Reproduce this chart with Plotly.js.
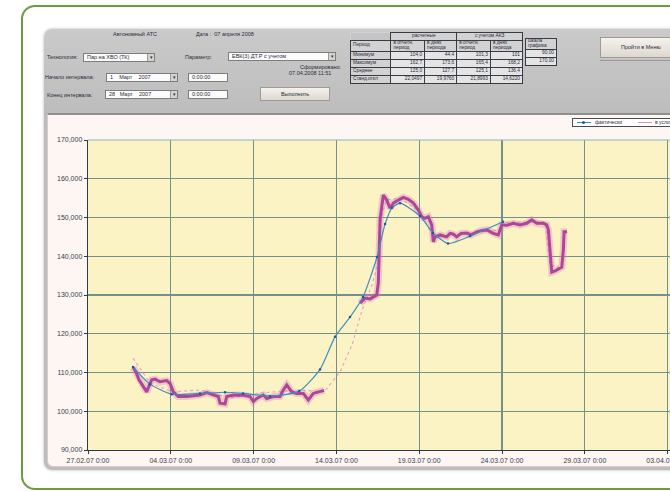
<!DOCTYPE html>
<html><head><meta charset="utf-8">
<script src="https://cdn.plot.ly/plotly-3.0.1.min.js"></script>
<style>
html,body{margin:0;padding:0;width:670px;height:491px;overflow:hidden;background:#fff;font-family:"Liberation Sans",Arial,sans-serif;}
#frame{position:absolute;left:21px;top:5px;width:720px;height:481px;border:2.5px solid #6f9b3d;border-radius:14px;}
#win{position:absolute;left:44px;top:29px;width:700px;height:441px;background:linear-gradient(#cacaca,#bcbcbc 20%,#bdbdbd);border-radius:8px;box-shadow:0 0 3px rgba(0,0,0,0.3);}
.t{position:absolute;font-size:5.5px;color:#2a2a38;white-space:nowrap;line-height:1;}
.box{position:absolute;background:#fbfbfb;border:1px solid #7c7c7c;box-sizing:border-box;font-size:5.5px;color:#2a2a38;line-height:7px;padding-left:3px;white-space:nowrap;overflow:hidden;}
.arr{position:absolute;right:0;top:0;width:6px;height:100%;background:#d8d4cc;border-left:1px solid #999;font-size:5px;text-align:center;line-height:7px;}
.btn{position:absolute;background:linear-gradient(#f6f2ec,#ddd8cf);border:1px solid #a09a92;box-sizing:border-box;font-size:5.5px;color:#2a2a38;text-align:center;}
table.tb{position:absolute;border-collapse:collapse;font-size:4.8px;color:#2a2a38;background:#d2d2d2;}
table.tb td{border:1px solid #3a3a44;padding:0 2px;height:7px;line-height:1;white-space:nowrap;}
table.tb td.n{text-align:right;background:#e4e4e4;}
#panel{position:absolute;left:47px;top:113px;width:700px;height:354px;background:#fdf6f3;border-top:2px solid #8f8f8f;border-left:1px solid #d9cbc8;border-bottom:1px solid #d9cbc8;border-radius:0 0 0 6px;box-sizing:border-box;}
#chart{position:absolute;left:47px;top:113px;width:700px;height:354px;}
#leg{position:absolute;left:572px;top:118px;width:120px;height:9px;background:#fff;border:1px solid #4a4a52;box-sizing:border-box;}
</style></head>
<body>
<div id="frame"></div>
<div id="win"></div>

<div class="t" style="left:113px;top:32px;">Автономный АТС</div>
<div class="t" style="left:196px;top:32px;">Дата :&nbsp;&nbsp;07 апреля 2008</div>
<div class="t" style="left:47px;top:55px;">Технология:</div>
<div class="box" style="left:83px;top:53px;width:72px;height:9px;">Пар на ХВО (ТК)<div class="arr">▾</div></div>
<div class="t" style="left:185px;top:55px;">Параметр:</div>
<div class="box" style="left:228px;top:52px;width:108px;height:9px;">ЕВК(3) ДТ.Р с учетом<div class="arr">▾</div></div>
<div class="t" style="left:300px;top:65px;">Сформировано:</div>
<div class="t" style="left:289px;top:71px;">07.04.2008 11:51</div>
<div class="t" style="left:45px;top:75px;">Начало интервала:</div>
<div class="box" style="left:106px;top:73px;width:72px;height:9px;">1&nbsp;&nbsp;&nbsp;&nbsp;Март&nbsp;&nbsp;&nbsp;&nbsp;2007<div class="arr">▾</div></div>
<div class="box" style="left:188px;top:73px;width:40px;height:9px;">0:00:00</div>
<div class="t" style="left:47px;top:93px;">Конец интервала:</div>
<div class="box" style="left:105px;top:90px;width:73px;height:9px;">28&nbsp;&nbsp;&nbsp;Март&nbsp;&nbsp;&nbsp;&nbsp;2007<div class="arr">▾</div></div>
<div class="box" style="left:188px;top:90px;width:40px;height:9px;">0:00:00</div>
<div class="btn" style="left:260px;top:87px;width:70px;height:14px;line-height:12px;">Выполнить</div>

<table class="tb" style="left:350px;top:32px;width:173px;">
<tr><td style="border-top:none;border-left:none;background:#c4c4c4"></td><td colspan="2" style="text-align:center">расчетные</td><td colspan="2" style="text-align:center">с учетом АКЗ</td></tr>
<tr><td>Период</td><td>в отчетн.<br>период</td><td>в днях<br>периода</td><td>в отчетн.<br>период</td><td>в днях<br>периода</td></tr>
<tr><td>Минимум</td><td class="n">104,0</td><td class="n">44,4</td><td class="n">101,3</td><td class="n">101</td></tr>
<tr><td>Максимум</td><td class="n">162,7</td><td class="n">173,6</td><td class="n">165,4</td><td class="n">168,2</td></tr>
<tr><td>Среднее</td><td class="n">125,0</td><td class="n">127,7</td><td class="n">125,1</td><td class="n">136,4</td></tr>
<tr><td>Станд.откл</td><td class="n">22,0497</td><td class="n">19,9760</td><td class="n">21,8993</td><td class="n">14,6220</td></tr>
</table>
<table class="tb" style="left:525px;top:38px;width:32px;">
<tr><td>шкала<br>графика</td></tr>
<tr><td class="n">90,00</td></tr>
<tr><td class="n">170,00</td></tr>
</table>
<div class="btn" style="left:600px;top:37px;width:80px;height:21px;line-height:19px;text-align:left;padding-left:20px;">Пройти в Меню</div>
<div style="position:absolute;left:600px;top:60px;width:80px;height:1px;background:#9a9a9a;"></div>

<div id="panel"></div>
<div id="chart"></div>
<div id="leg">
  <div style="position:absolute;left:4px;top:3px;width:14px;height:1px;background:#3b8fc0;"></div>
  <div style="position:absolute;left:9px;top:2px;width:3px;height:3px;border-radius:2px;background:#1e5a96;"></div>
  <div class="t" style="left:22px;top:1px;font-size:5px;">фактически</div>
  <div style="position:absolute;left:65px;top:3px;width:14px;height:1px;background:#e08fc4;"></div>
  <div class="t" style="left:82px;top:1px;font-size:5px;">в условиях АКЗ</div>
</div>

<script>
// time axis: days since 27.02.07 0:00
const tickDays = [0, 5, 10, 15, 20, 25, 30, 35];
const tickLabels = ['27.02.07 0:00', '04.03.07 0:00', '09.03.07 0:00', '14.03.07 0:00',
                    '19.03.07 0:00', '24.03.07 0:00', '29.03.07 0:00', '03.04.07 0:00'];

// hourly measured values (thick magenta)
const hourlyDays = [2.735, 2.899, 3.080, 3.261, 3.545, 3.684, 3.847, 4.046, 4.348, 4.752,
  4.952, 5.151, 5.453, 5.960, 6.341, 6.763, 7.168, 7.566, 7.868, 7.971,
  8.273, 8.376, 8.774, 9.378, 9.783, 9.982, 10.187, 10.586, 10.791, 11.190,
  11.594, 11.793, 11.999, 12.301, 12.603, 13.001, 13.303, 13.605, 14.010, 14.251, null,
  16.425, 16.727, 17.029, 17.434, 17.530, 17.572, 17.633, 17.832, 18.037, 18.237,
  18.436, 18.738, 19.040, 19.342, 19.644, 19.946, 20.151, 20.350, 20.549, 20.755,
  20.851, 20.954, 21.256, 21.661, 21.860, 22.059, 22.264, 22.524, 22.868, 23.128,
  23.472, 23.732, 24.076, 24.475, 24.777, 24.982, 25.284, 25.682, 26.087, 26.492,
  26.793, 27.095, 27.494, 27.699, 27.796, 28.001, 28.200, 28.605, 28.702, 28.744, 28.925];
const hourlyValues = [111300, 110100, 108100, 106800, 105000, 106500, 108100, 108300, 107600, 107900,
  107200, 105000, 103800, 103800, 103900, 104200, 104800, 104200, 103800, 102100,
  101900, 103800, 104200, 104100, 103800, 102500, 103300, 104200, 103300, 103800,
  103800, 105500, 106800, 105000, 104600, 104600, 102900, 104600, 105000, 105400, null,
  127900, 129200, 129000, 130000, 133100, 139000, 149400, 155800, 154500, 152400,
  153700, 154500, 155200, 154700, 153700, 151900, 150200, 149800, 150200, 148100,
  143700, 145000, 145500, 145000, 145900, 145700, 145000, 145900, 146000, 145500,
  146300, 146600, 146800, 145900, 145500, 148100, 148000, 148500, 148100, 148500,
  149400, 148500, 148500, 148100, 146800, 135900, 136200, 137200, 141600, 146300, 146300];

// "фактически" (blue)
const factDays = [2.717, 3.744, 5.054, 6.763, 8.273, 9.360, 10.990, 12.760, 14.010, 14.915,
  15.821, 16.606, 17.452, 17.935, 18.357, 18.841, 20.048, 20.833, 21.739, 23.068, 25.060];
const factValues = [111400, 107000, 104400, 104600, 104900, 104600, 103900, 105200, 110800, 119200,
  124300, 129500, 139800, 148300, 152500, 153700, 150400, 146000, 143300, 145200, 148900];

// "в условиях АКЗ" (light pink dotted)
const condDays = [2.717, 3.744, 5.072, 6.763, 8.575, 10.386, 12.802, 14.251, 15.217, 15.942,
  16.546, 17.150, 17.512, 17.754, 17.995, 18.841, 20.048, 20.894, 22.464, 24.879,
  25.060, 27.597, 27.899, 28.502];
const condValues = [113700, 107300, 105000, 105500, 103400, 104700, 105500, 105000, 110100, 117100,
  126100, 132600, 138500, 150600, 154500, 155000, 151400, 144700, 145700, 146800,
  148800, 148800, 137700, 137000];

const traces = [
  {x: condDays, y: condValues, mode: 'lines', name: 'в условиях АКЗ',
   line: {color: '#e79bcb', width: 1.1, dash: 'dot'}, hoverinfo: 'skip'},
  {x: hourlyDays, y: hourlyValues, mode: 'lines', showlegend: false,
   line: {color: 'rgba(214,120,196,0.35)', width: 7}, connectgaps: false, hoverinfo: 'skip'},
  {x: hourlyDays, y: hourlyValues, mode: 'lines', showlegend: false,
   line: {color: '#ad4699', width: 3}, connectgaps: false},
  {x: factDays, y: factValues, mode: 'lines+markers', name: 'фактически',
   line: {color: '#3b8fc0', width: 1.2, shape: 'spline', smoothing: 0.6},
   marker: {color: '#1e5a96', size: 2.5}}
];

const axisFont = {family: 'Liberation Sans, Arial, sans-serif', size: 7, color: '#3a3a48'};
const layout = {
  width: 700, height: 354,
  margin: {l: 41, r: 27, t: 27, b: 17, pad: 0},
  paper_bgcolor: 'rgba(0,0,0,0)',
  plot_bgcolor: '#fcf3c4',
  showlegend: false,
  xaxis: {
    range: [0, 38.16], tickvals: tickDays, ticktext: tickLabels,
    showgrid: true, gridcolor: '#74908a', gridwidth: 1.2, zeroline: false,
    showline: true, linecolor: '#2c3c44', linewidth: 1.3,
    ticks: 'outside', ticklen: 3, tickcolor: '#2c3c44', tickfont: axisFont
  },
  yaxis: {
    range: [90000, 170000], dtick: 10000, tickformat: ',',
    showgrid: true, gridcolor: '#74908a', gridwidth: 1.2, zeroline: false,
    showline: true, linecolor: '#2c3c44', linewidth: 1.3,
    ticks: 'outside', ticklen: 3, tickcolor: '#2c3c44', tickfont: axisFont
  },
  shapes: [{type: 'line', xref: 'paper', yref: 'paper', x0: 0, x1: 1, y0: 1, y1: 1,
            line: {color: '#8fb3c0', width: 1}}]
};
Plotly.newPlot('chart', traces, layout, {staticPlot: true, displayModeBar: false});
</script>
</body></html>
